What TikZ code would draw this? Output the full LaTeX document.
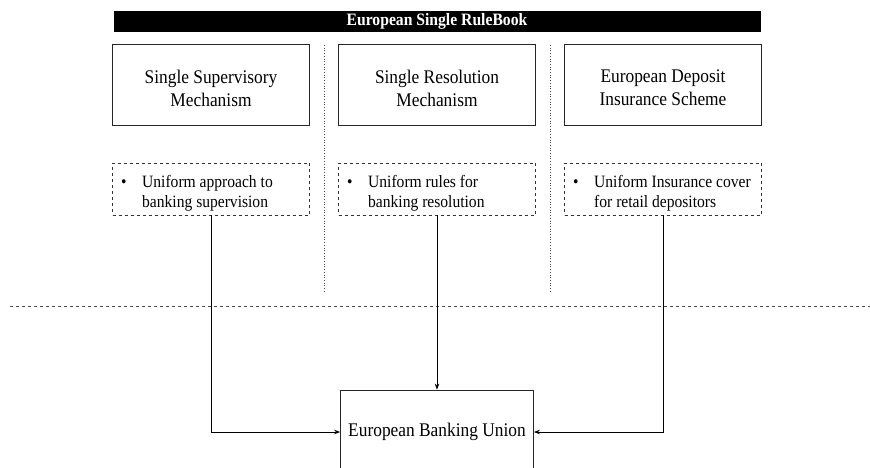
\documentclass[tikz,border=0pt]{standalone}
\usepackage{fontspec}
\setmainfont{Liberation Serif}
\newfontfamily\narrowserif[FakeStretch=0.9]{Liberation Serif}
\usetikzlibrary{arrows.meta}
\begin{document}
\begin{tikzpicture}[x=1pt,y=-1pt,
  mainbox/.style={draw=black!85,line width=0.8pt,inner sep=0pt,minimum width=197pt,minimum height=81pt},
  maintext/.style={align=center,inner sep=0pt,font=\narrowserif\fontsize{19.3}{23}\selectfont},
  ptbox/.style={draw=black!80,dashed,line width=0.7pt,inner sep=0pt,minimum width=197pt,minimum height=52pt},
  ptext/.style={anchor=north west,align=left,inner sep=0pt,font=\narrowserif\fontsize{17.3}{20.5}\selectfont},
  bul/.style={anchor=base west,inner sep=0pt,font=\narrowserif\fontsize{17.3}{20.5}\selectfont},
  conn/.style={draw=black,line width=0.7pt,-{Stealth[length=6pt,width=4.5pt]}},
  sep/.style={draw=black!70,dotted,line width=0.7pt}]
\useasboundingbox (0,0) rectangle (870,467);
\clip (0,0) rectangle (870,467);
% bar
\node[fill=black,minimum width=647pt,minimum height=21pt,inner sep=0pt,text=white,font=\narrowserif\bfseries\fontsize{17.4}{18}\selectfont] (bar) at (437,21.5) {European Single RuleBook};
% top boxes
\node[mainbox] (ssm) at (211,85) {};
\node[mainbox] (srm) at (437,85) {};
\node[mainbox] (edis) at (663,85) {};
\node[maintext,yshift=-3pt] (ssmt) at (ssm.center) {Single Supervisory\\Mechanism};
\node[maintext,yshift=-3pt] (srmt) at (srm.center) {Single Resolution\\Mechanism};
\node[maintext,yshift=-3pt] (edist) at (edis.center) {European Deposit\\Insurance Scheme};
% separators
\coordinate (s1t) at (324,45); \coordinate (s1b) at (324,292);
\coordinate (s2t) at (550,45); \coordinate (s2b) at (550,292);
\draw[sep] (s1t) -- (s1b);
\draw[sep] (s2t) -- (s2b);
% dashed boxes
\node[ptbox] (p1) at (211,189) {};
\node[ptbox] (p2) at (437,189) {};
\node[ptbox] (p3) at (663,189) {};
\node[bul] (b1) at (121,187) {•};
\node[ptext] (t1) at (142,175) {Uniform approach to\\banking supervision};
\node[bul] (b2) at (347,187) {•};
\node[ptext] (t2) at (368,175) {Uniform rules for\\banking resolution};
\node[bul] (b3) at (573,187) {•};
\node[ptext] (t3) at (594,175) {Uniform Insurance cover\\for retail depositors};
% horizontal dashed line
\coordinate (hl) at (10,306); \coordinate (hr) at (870,306);
\draw[black!70,dashed,line width=0.7pt] (hl) -- (hr);
% EBU
\node[draw=black!85,line width=0.8pt,minimum width=193pt,minimum height=84pt,inner sep=0pt,font=\narrowserif\fontsize{19.3}{23}\selectfont] (ebu) at (437,432) {European Banking Union};
% connectors
\draw[conn] (p1.south) |- (ebu.west);
\draw[conn] (p2.south) -- (ebu.north);
\draw[conn] (p3.south) |- (ebu.east);
\end{tikzpicture}
\end{document}
